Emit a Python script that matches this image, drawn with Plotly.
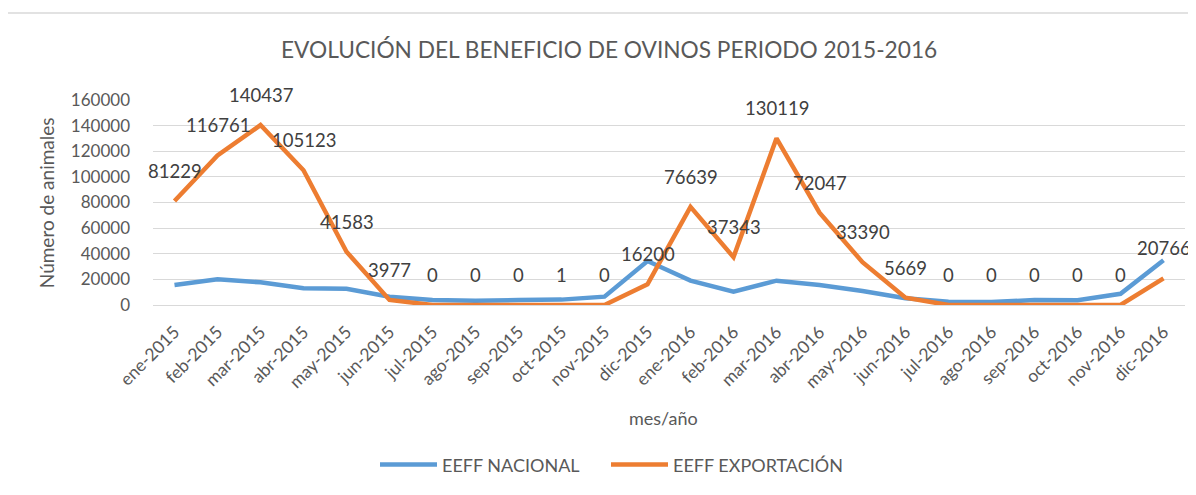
import plotly.graph_objects as go

months = ["ene-2015", "feb-2015", "mar-2015", "abr-2015", "may-2015", "jun-2015",
          "jul-2015", "ago-2015", "sep-2015", "oct-2015", "nov-2015", "dic-2015",
          "ene-2016", "feb-2016", "mar-2016", "abr-2016", "may-2016", "jun-2016",
          "jul-2016", "ago-2016", "sep-2016", "oct-2016", "nov-2016", "dic-2016"]
nacional = [15600, 20000, 17700, 13000, 12700, 6500, 4000, 3400, 3900, 4200, 6500, 34300,
            19000, 10400, 19000, 15600, 10900, 5200, 2600, 2300, 3900, 3800, 8700, 34900]
exportacion = [81229, 116761, 140437, 105123, 41583, 3977, 0, 0, 0, 1, 0, 16200,
               76639, 37343, 130119, 72047, 33390, 5669, 0, 0, 0, 0, 0, 20766]
y_ticks = [0, 20000, 40000, 60000, 80000, 100000, 120000, 140000, 160000]

FONT = "Lato"
TXT = "#595959"

fig = go.Figure()
fig.add_trace(go.Scatter(x=months, y=nacional, mode="lines", name="EEFF NACIONAL",
                         line=dict(color="#5b9bd5", width=4.5), legend="legend"))
fig.add_trace(go.Scatter(x=months, y=exportacion, mode="lines", name="EEFF EXPORTACIÓN",
                         line=dict(color="#ed7d31", width=4.5), legend="legend2"))

for m, v in zip(months, exportacion):
    fig.add_annotation(x=m, y=v, text=str(v), showarrow=False, yshift=30,
                       xanchor="center", yanchor="middle",
                       font=dict(family=FONT, size=18.5, color="#404040"))

# axis titles
fig.add_annotation(xref="paper", yref="paper", x=-0.103, y=0.5, text="Número de animales",
                   textangle=-90, showarrow=False, xanchor="center", yanchor="middle",
                   font=dict(family=FONT, size=19, color=TXT))
fig.add_annotation(xref="paper", yref="paper", x=0.495, y=-0.551, text="mes/año",
                   showarrow=False, xanchor="center", yanchor="middle",
                   font=dict(family=FONT, size=18, color=TXT))

# chart frame
fig.add_shape(type="rect", xref="paper", yref="paper", x0=-0.1444, x1=1.05, y0=-1.1, y1=1.424,
              line=dict(color="#d9d9d9", width=1.5), layer="below")

leg_common = dict(orientation="h", xanchor="left", y=-0.78, yanchor="middle",
                  font=dict(family=FONT, size=18, color=TXT), itemwidth=57,
                  bgcolor="rgba(0,0,0,0)")

fig.update_layout(
    width=1188, height=487,
    margin=dict(l=145, r=11, t=92, b=190),
    paper_bgcolor="white", plot_bgcolor="white",
    title=dict(text="EVOLUCIÓN DEL BENEFICIO DE OVINOS PERIODO 2015-2016",
               x=0.506, xanchor="center", xref="container",
               y=1 - 42 / 487, yanchor="middle", yref="container",
               font=dict(family=FONT, size=22.7, color=TXT)),
    font=dict(family=FONT, color=TXT),
    showlegend=True,
    legend=dict(x=(375 - 153) / 1032, **leg_common),
    legend2=dict(x=(606 - 153) / 1032, **leg_common),
    xaxis=dict(type="category", range=[-0.5, 23.5], tickangle=-45, showgrid=False,
               showline=True, linecolor="#d9d9d9", linewidth=1, ticks="",
               ticklabelstandoff=9, automargin=False,
               tickfont=dict(family=FONT, size=17.5, color=TXT)),
    yaxis=dict(range=[0, 160000], tickvals=y_ticks, ticktext=[str(t) for t in y_ticks],
               showgrid=True, gridcolor="#d9d9d9", gridwidth=1, zeroline=False,
               showline=False, ticklabelstandoff=22, automargin=False,
               tickfont=dict(family=FONT, size=17, color=TXT)),
)

fig.write_html("out.html")
